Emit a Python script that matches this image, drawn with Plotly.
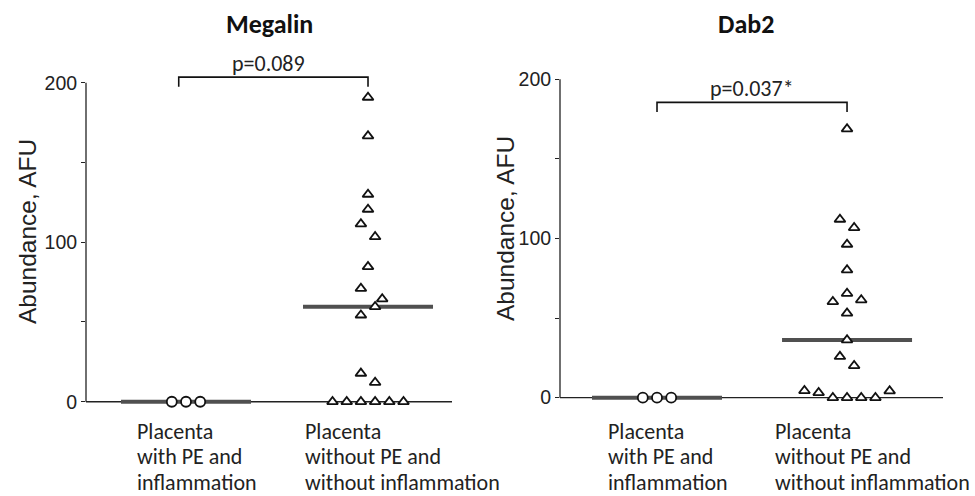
import numpy as np
import plotly.graph_objects as go

W, H = 975, 496

# ---------------- data ----------------
PANEL_TITLES = ["Megalin", "Dab2"]
CATEGORIES = [["Placenta", "with PE and", "inflammation"],
              ["Placenta", "without PE and", "without inflammation"]]
P_LABELS = ["p=0.089", "p=0.037*"]

Y_TICKS = [0, 50, 100, 150, 200]
Y_TICK_TEXT = ["0", "", "100", "", "200"]
Y_TITLE = "Abundance, AFU"

MEGALIN_PE = [0, 0, 0]
MEGALIN_NOPE = [190.8, 166.6, 130.0, 120.6, 111.4, 103.4, 84.6, 71.0, 64.4, 59.6,
                54.3, 17.8, 12.1, 0, 0, 0, 0, 0, 0]
DAB2_PE = [0, 0, 0]
DAB2_NOPE = [168.8, 112.0, 106.8, 96.3, 80.2, 65.5, 60.3, 61.4, 53.0, 36.2,
             25.8, 20.1, 4.4, 3.1, 0, 0, 0, 0, 4.2]

# beeswarm column slots (half-steps)
MEGALIN_PE_COL = [-2, 0, 2]
MEGALIN_NOPE_COL = [0, 0, 0, 0, -1, 1, 0, -1, 2, 1, -1, -1, 1, -5, -3, -1, 1, 3, 5]
DAB2_PE_COL = [-2, 0, 2]
DAB2_NOPE_COL = [0, -1, 1, 0, 0, 0, -2, 2, 0, 0, -1, 1, -6, -4, -2, 0, 2, 4, 6]

PANELS = [
    dict(pe=MEGALIN_PE, nope=MEGALIN_NOPE, pe_col=MEGALIN_PE_COL, nope_col=MEGALIN_NOPE_COL,
         xdom=[86 / W, 452 / W], xr=[0.4505, 2.4615], ydom=[0.1643, 0.8654],
         bracket=203.5, bracket_left=0.96, p_shift=-5, title_shift=0,
         ytitle_x=27 / W, ytitle_y=1 - 232 / H, label_shift=[-51, -65]),
    dict(pe=DAB2_PE, nope=DAB2_NOPE, pe_col=DAB2_PE_COL, nope_col=DAB2_NOPE_COL,
         xdom=[560 / W, 943 / W], xr=[0.4895, 2.505], ydom=[0.1726, 0.8722],
         bracket=185.5, bracket_left=1.0, p_shift=0, title_shift=-6,
         ytitle_x=505 / W, ytitle_y=1 - 229 / H, label_shift=[-51, -74]),
]
Y_RANGE = [-8, 210]
STEP_PX = 7.1
MEDIAN_HALF_PX = 65
BRACKET_DROP = 6
LABEL_FIRST_PX = 431     # centre of first label line from top of page
LABEL_LINE_PX = 25.6

SANS = "Liberation Sans, Arial, sans-serif"
CAL = "Carlito, Lato, sans-serif"

fig = go.Figure()
layout = dict(width=W, height=H, margin=dict(l=0, r=0, t=0, b=0),
              paper_bgcolor="white", plot_bgcolor="white", showlegend=False)
shapes = []
annotations = []

for i, p in enumerate(PANELS):
    n = "" if i == 0 else str(i + 1)
    xa, ya = "x" + n, "y" + n
    px_per_unit = (p["xdom"][1] - p["xdom"][0]) * W / (p["xr"][1] - p["xr"][0])
    step = STEP_PX / px_per_unit
    half = MEDIAN_HALF_PX / px_per_unit

    groups = [(1, p["pe"], p["pe_col"], "circle", 10),
              (2, p["nope"], p["nope_col"], "triangle-up", 9.5)]
    # medians
    for cx, vals, cols, sym, sz in groups:
        med = float(np.median(vals))
        fig.add_trace(go.Scatter(x=[cx - half, cx + half], y=[med, med], mode="lines",
                                 line=dict(color="#505050", width=4), xaxis=xa, yaxis=ya,
                                 hoverinfo="skip"))
    # points
    for cx, vals, cols, sym, sz in groups:
        xs = [cx + c * step for c in cols]
        fig.add_trace(go.Scatter(x=xs, y=vals, mode="markers", xaxis=xa, yaxis=ya,
                                 cliponaxis=False,
                                 marker=dict(symbol=sym, size=sz, color="white",
                                             line=dict(color="#111111", width=1.8))))

    layout["xaxis" + n] = dict(domain=p["xdom"], range=p["xr"], showline=False,
                               showticklabels=False, ticks="", showgrid=False,
                               zeroline=False, anchor=ya, fixedrange=True)
    layout["yaxis" + n] = dict(domain=p["ydom"], range=Y_RANGE, showline=False,
                               tickvals=Y_TICKS, ticktext=Y_TICK_TEXT, ticks="outside",
                               ticklen=4, tickwidth=1.2, tickcolor="#222",
                               tickfont=dict(family=SANS, size=19.5, color="#222"),
                               showgrid=False, zeroline=False, anchor=xa, fixedrange=True)

    # axis lines
    shapes.append(dict(type="line", xref=xa + " domain", yref=ya, x0=0, x1=0,
                       y0=Y_TICKS[0], y1=Y_TICKS[-1], line=dict(color="#222", width=1.3)))
    shapes.append(dict(type="line", xref=xa + " domain", yref=ya, x0=0, x1=1,
                       y0=0, y1=0, line=dict(color="#222", width=1.3), layer="below"))
    # bracket
    b = p["bracket"]
    bl = p["bracket_left"]
    shapes.append(dict(type="path", xref=xa, yref=ya,
                       path=f"M{bl},{b - BRACKET_DROP} L{bl},{b} L2,{b} L2,{b - BRACKET_DROP}",
                       line=dict(color="#111", width=1.6)))

    annotations.append(dict(text=P_LABELS[i], xref=xa, yref=ya, x=(bl + 2) / 2, y=b,
                            xshift=p["p_shift"], yshift=13.5, yanchor="middle",
                            showarrow=False,
                            font=dict(family=CAL, size=22, color="#222")))
    annotations.append(dict(text="<b>" + PANEL_TITLES[i] + "</b>", xref=xa + " domain",
                            yref="paper", x=0.5, xshift=p["title_shift"], y=1 - 24 / H,
                            yanchor="middle", showarrow=False,
                            font=dict(family=CAL, size=26, color="#111")))
    annotations.append(dict(text=Y_TITLE, xref="paper", yref="paper", x=p["ytitle_x"],
                            y=p["ytitle_y"], textangle=-90, showarrow=False,
                            xanchor="center", yanchor="middle",
                            font=dict(family=SANS, size=24.5, color="#222")))
    for j, lines in enumerate(CATEGORIES):
        for k, line in enumerate(lines):
            annotations.append(dict(text=line, xref=xa, yref="paper", x=j + 1,
                                    y=1 - (LABEL_FIRST_PX + k * LABEL_LINE_PX) / H,
                                    xshift=p["label_shift"][j],
                                    xanchor="left", yanchor="middle", align="left",
                                    showarrow=False,
                                    font=dict(family=CAL, size=22, color="#222")))

layout["shapes"] = shapes
layout["annotations"] = annotations
fig.update_layout(**layout)
fig.write_html("out.html", config={"displayModeBar": False},
               post_script="document.body.style.margin='0';document.body.style.padding='0';")
